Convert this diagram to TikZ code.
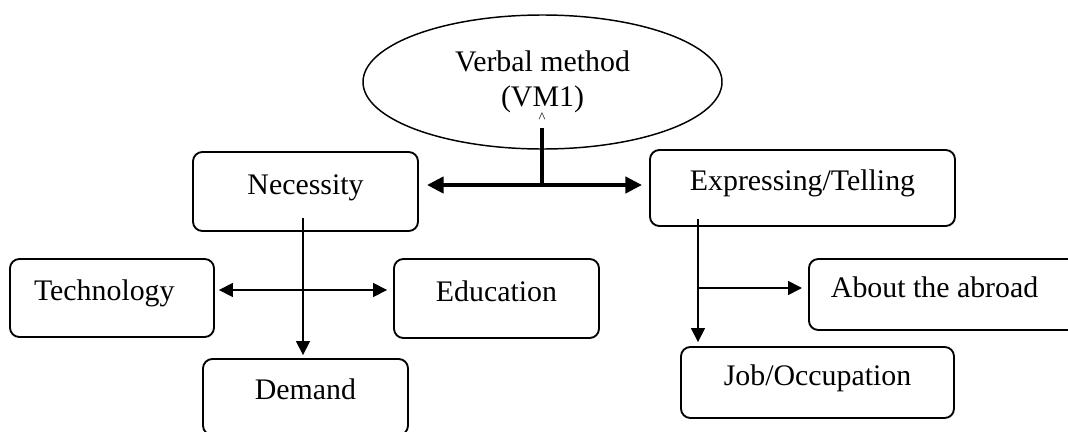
\documentclass[tikz,border=0pt]{standalone}
\usepackage{fontspec}
\setmainfont{Liberation Serif}
\usetikzlibrary{arrows.meta,shapes.geometric}
\begin{document}
\begin{tikzpicture}[x=0.75pt,y=-0.75pt,
        font=\fontsize{22.4}{26}\selectfont,
        box/.style={draw,line width=1.4pt,rounded corners=7pt,inner sep=0pt,
                text height=0.7em,text depth=0.3em},
        smallarrow/.style={line width=1.2pt,-{Triangle[length=10.5pt,width=10.5pt]}},
        smalltwo/.style={line width=1.2pt,{Triangle[length=10.5pt,width=10.5pt]}-{Triangle[length=10.5pt,width=10.5pt]}},
        bigtwo/.style={line width=3.2pt,{Triangle[length=12.5pt,width=12pt]}-{Triangle[length=12.5pt,width=12pt]}}]
        \useasboundingbox (0,0) rectangle (1068,432);
        % top
        \node[ellipse,draw,line width=1.1pt,inner sep=0pt,align=center,
            minimum width=269.25pt,minimum height=100.5pt] (vm) at (542.5,82) {Verbal method\\(VM1)};
        \node[font=\fontsize{11}{11}\selectfont,inner sep=0pt] (caret) at (542,118) {\textasciicircum};
        \node[box,minimum width=168.75pt,minimum height=59.25pt] (nec) at (305.5,191.5) {Necessity};
        \node[box,minimum width=228.75pt,minimum height=57pt] (expr) at (802.5,188) {Expressing/Telling};
        % left branch
        \node[box,text width=117pt,inner xsep=18pt,align=flush left,minimum height=58.5pt] (tech) at (112,298) {Technology};
        \node[box,minimum width=153.75pt,minimum height=59.25pt] (edu) at (496.5,298.5) {Education};
        \node[box,minimum width=153.75pt,minimum height=57pt] (dem) at (305.5,397) {Demand};
        % right branch
        \node[box,anchor=west,text width=178.5pt,inner xsep=16.5pt,align=flush left,minimum height=53.25pt] (abr) at (808,294.5) {About the abroad};
        \node[box,minimum width=204.75pt,minimum height=53.25pt] (job) at (817.5,382.5) {Job/Occupation};
        % connectors
        \coordinate (stem) at (542,128);
        \coordinate (fork) at (542,185);
        \draw[line width=3.2pt] (stem) -- (fork);
        \draw[bigtwo,shorten <=6pt,shorten >=5.25pt] (nec.east |- fork) -- (expr.west |- fork);
        \coordinate (necdrop) at (303,218);
        \coordinate (cross) at (303,290);
        \draw[smallarrow,shorten >=2.25pt] (necdrop) -- (necdrop |- dem.north);
        \draw[smalltwo,shorten <=3pt,shorten >=4.5pt] (tech.east |- cross) -- (edu.west |- cross);
        \coordinate (exprdrop) at (698,219);
        \coordinate (branch) at (698,288);
        \draw[smallarrow,shorten >=3pt] (exprdrop) -- (exprdrop |- job.north);
        \draw[smallarrow,shorten >=4.5pt] (branch) -- (branch -| abr.west);
\end{tikzpicture}
\end{document}
